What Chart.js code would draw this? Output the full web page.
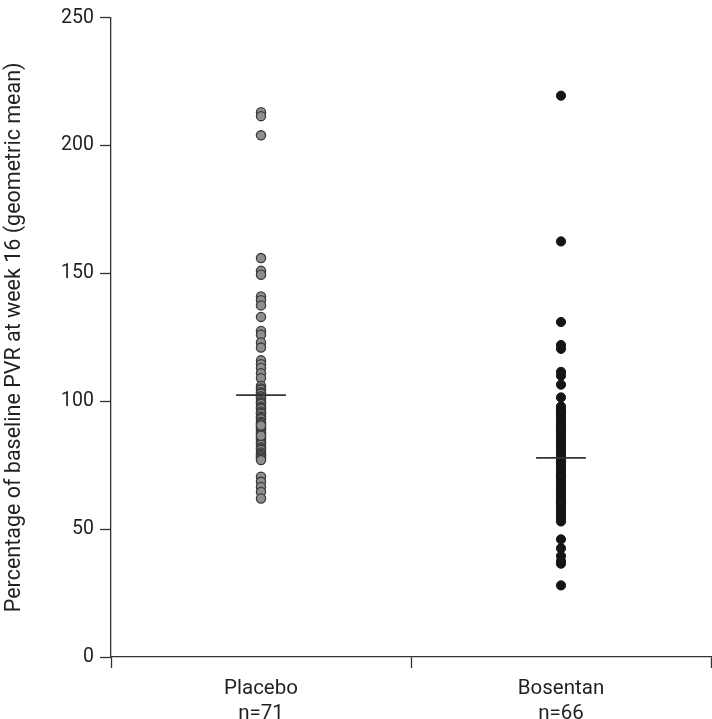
<!DOCTYPE html>
<html>
<head>
<meta charset="utf-8">
<script src="https://cdn.jsdelivr.net/npm/chart.js@4/dist/chart.umd.min.js"></script>
<style>
html,body{margin:0;padding:0;background:#fff;}
#wrap{width:712px;height:719px;position:relative;}
</style>
</head>
<body>
<div id="wrap"><canvas id="c" width="712" height="719"></canvas></div>
<script>
const categories = ['Placebo', 'Bosentan'];
const sampleLabels = ['n=71', 'n=66'];
const yTicks = [0, 50, 100, 150, 200, 250];
const yTitle = 'Percentage of baseline PVR at week 16 (geometric mean)';

const placebo = [213, 211.5, 204,
  156, 151, 149.5, 141, 139.5, 137.5, 133, 127.5, 126, 123, 121, 116, 114.5, 113, 111, 109,
  106, 105, 104.5, 103.5, 103, 102, 101.5, 101, 100, 99.5, 99, 98, 97.5, 97, 96, 95.5, 95, 94, 93.5, 93,
  92, 91.5, 91, 90, 89.5, 89, 88, 87.5, 87, 86, 85.5, 85, 84, 83.5, 83, 82, 81.5, 81, 80, 79.5,
  79, 78.5, 78, 77.5, 77, 90.5, 86.5,
  70.5, 68.5, 66.5, 64.5, 62];
const bosentan = [219.5, 162.5, 131, 122, 120.5, 111.5, 110, 106.5, 101.5,
  98, 97, 96, 95, 94, 93, 92, 91, 90, 89, 88, 87, 86, 85, 84, 83, 82, 81, 80, 79,
  78, 77, 76, 75, 74, 73, 72, 71, 70, 69, 68, 67, 66, 65, 64,
  63, 62, 61, 60, 59, 58, 57, 56, 55, 54, 53, 95.5, 88.5, 76.5, 70.5, 60.5,
  46, 42.5, 39.5, 37.5, 36.5, 28];
const means = [102.4, 77.9];

const catPos = [0.5, 1.5];
const halfW = 0.083;
const FONT = 'Roboto, "DejaVu Sans", sans-serif';
const TXT = '#231f20';

const datasets = [
  {
    label: categories[0], type: 'scatter',
    data: placebo.map(v => ({x: catPos[0], y: v})),
    backgroundColor: '#8e8e8e', borderColor: '#3a3a3a', borderWidth: 1.3,
    pointRadius: 4.6, order: 2
  },
  {
    label: categories[1], type: 'scatter',
    data: bosentan.map(v => ({x: catPos[1], y: v})),
    backgroundColor: '#151515', borderColor: '#151515', borderWidth: 1,
    pointRadius: 4.6, order: 2
  }
];
means.forEach((m, i) => {
  datasets.push({
    label: 'mean ' + categories[i], type: 'line',
    data: [{x: catPos[i] - halfW, y: m}, {x: catPos[i] + halfW, y: m}],
    borderColor: '#333', borderWidth: 1.7, pointRadius: 0, showLine: true, order: 1
  });
});

new Chart(document.getElementById('c'), {
  type: 'scatter',
  data: { datasets },
  options: {
    responsive: false,
    animation: false,
    devicePixelRatio: 1,
    layout: { autoPadding: false, padding: { top: 15, right: 1, left: 0, bottom: 0 } },
    plugins: { legend: { display: false }, tooltip: { enabled: false } },
    scales: {
      x: {
        type: 'linear', min: 0, max: 2,
        afterBuildTicks: s => { s.ticks = [0, 0.5, 1, 1.5, 2].map(v => ({value: v})); },
        afterFit: s => { s.height = 62; s.paddingRight = 0; s.paddingLeft = 0; },
        border: { display: true, color: '#333', width: 1.3 },
        grid: {
          drawOnChartArea: false, drawTicks: true, tickLength: 11,
          tickColor: ctx => (ctx.tick && Number.isInteger(ctx.tick.value)) ? '#333' : 'rgba(0,0,0,0)',
          tickWidth: 1.3
        },
        ticks: {
          autoSkip: false, maxRotation: 0, padding: 9,
          color: TXT, font: { family: FONT, size: 20.5, weight: 400 }, lineHeight: 1.1,
          callback: v => {
            const i = catPos.indexOf(v);
            return i >= 0 ? [categories[i], sampleLabels[i]] : '';
          }
        }
      },
      y: {
        type: 'linear', min: 0, max: 250,
        afterBuildTicks: s => { s.ticks = yTicks.map(v => ({value: v})); },
        afterFit: s => { s.width = 111; },
        border: { display: true, color: '#333', width: 1.3 },
        grid: { drawOnChartArea: false, drawTicks: true, tickLength: 11, tickColor: '#333', tickWidth: 1.3 },
        ticks: { color: TXT, padding: 6, font: { family: FONT, size: 19.5, weight: 400 } },
        title: { display: true, text: yTitle, color: TXT, padding: { top: 2, bottom: 4 },
                 font: { family: FONT, size: 21.5, weight: 400 } }
      }
    }
  }
});
</script>
</body>
</html>
